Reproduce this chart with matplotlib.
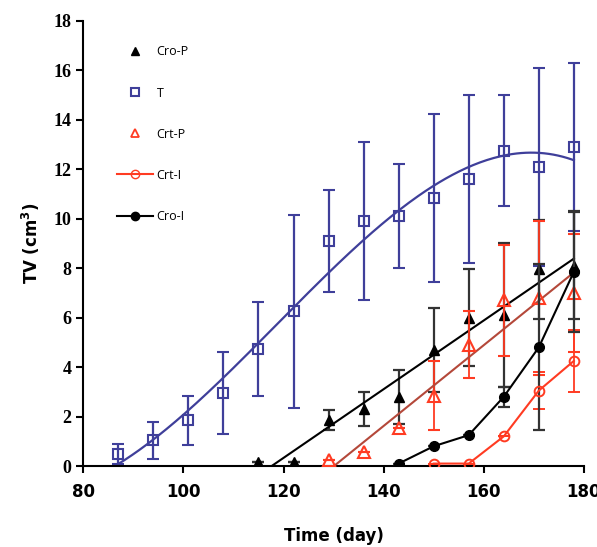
import numpy as np
import matplotlib
matplotlib.use("Agg")
import matplotlib.pyplot as plt
from matplotlib.lines import Line2D

# days of measurement
days_t = [87, 94, 101, 108, 115, 122, 129, 136, 143, 150, 157, 164, 171, 178]
t_val = [0.5, 1.05, 1.85, 2.95, 4.75, 6.25, 9.1, 9.9, 10.1, 10.85, 11.6, 12.75, 12.1, 12.9]
t_err = [0.4, 0.75, 1.0, 1.65, 1.9, 3.9, 2.05, 3.2, 2.1, 3.4, 3.4, 2.25, 4.0, 3.4]

days_crop = [115, 122, 129, 136, 143, 150, 157, 164, 171, 178]
crop_val = [0.15, 0.15, 1.85, 2.3, 2.8, 4.7, 6.0, 6.1, 7.95, 8.1]
crop_err = [0.0, 0.0, 0.4, 0.7, 1.1, 1.7, 1.95, 2.9, 2.0, 2.15]

days_crtp = [129, 136, 143, 150, 157, 164, 171, 178]
crtp_val = [0.25, 0.55, 1.55, 2.85, 4.9, 6.7, 6.8, 7.0]
crtp_err = [0.0, 0.0, 0.0, 1.4, 1.35, 2.25, 3.1, 2.4]

days_crti = [150, 157, 164, 171, 178]
crti_val = [0.1, 0.1, 1.2, 3.05, 4.25]
crti_err = [0.0, 0.0, 0.0, 0.75, 1.25]

days_croi = [143, 150, 157, 164, 171, 178]
croi_val = [0.1, 0.8, 1.25, 2.8, 4.8, 7.85]
croi_err = [0.0, 0.0, 0.0, 0.4, 3.35, 2.45]

blue = "#3f3f9a"
red = "#ff3b22"
brown = "#b4483a"

fig = plt.figure(figsize=(5.97, 5.47), dpi=100)
ax = fig.add_axes([0.1395, 0.148, 0.8385, 0.814])

# T with cubic trendline
ax.errorbar(days_t, t_val, yerr=t_err, fmt="s", color=blue, mfc="none", mec=blue,
            ms=7, mew=1.5, elinewidth=1.6, capsize=4, capthick=1.6, zorder=2)
c = np.polyfit(days_t, t_val, 3)
xx = np.linspace(days_t[0], days_t[-1], 200)
ax.plot(xx, np.polyval(c, xx), color=blue, lw=1.6, zorder=2)

# Cro-P with linear trendline
ax.errorbar(days_crop, crop_val, yerr=crop_err, fmt="^", color="black", ms=7.5,
            elinewidth=1.6, ecolor="#333333", capsize=4, capthick=1.6, zorder=3)
c = np.polyfit(days_crop, crop_val, 1)
xx = np.array([days_crop[0], days_crop[-1]])
ax.plot(xx, np.polyval(c, xx), color="black", lw=1.5, zorder=3)

# Crt-P with linear trendline
ax.errorbar(days_crtp, crtp_val, yerr=crtp_err, fmt="^", color=red, mfc="none", mec=red,
            ms=8, mew=1.5, elinewidth=1.3, capsize=4, capthick=1.3, zorder=4)
c = np.polyfit(days_crtp, crtp_val, 1)
xx = np.array([days_crtp[0], days_crtp[-1]])
ax.plot(xx, np.polyval(c, xx), color=brown, lw=1.5, zorder=4)

# Crt-I
ax.errorbar(days_crti, crti_val, yerr=crti_err, fmt="-o", color=red, mfc="none", mec=red,
            ms=7, mew=1.4, lw=1.5, elinewidth=1.3, capsize=4, capthick=1.3, zorder=5)

# Cro-I
ax.errorbar(days_croi, croi_val, yerr=croi_err, fmt="-o", color="black", ms=7,
            lw=1.5, elinewidth=1.6, ecolor="#333333", capsize=4, capthick=1.6, zorder=5)

ax.set_xlim(80, 180)
ax.set_ylim(0, 18)
ax.set_xticks(range(80, 181, 20))
ax.set_yticks(range(0, 19, 2))
for s in ["top", "right"]:
    ax.spines[s].set_visible(False)
for s in ["left", "bottom"]:
    ax.spines[s].set_linewidth(1.5)
ax.tick_params(direction="out", length=5, width=1.5)
ax.tick_params(axis="x", pad=7)
for lab in ax.get_xticklabels():
    lab.set_fontfamily("DejaVu Sans")
    lab.set_fontweight("bold")
    lab.set_fontsize(12)
for lab in ax.get_yticklabels():
    lab.set_fontfamily("Liberation Serif")
    lab.set_fontweight("bold")
    lab.set_fontsize(13)

ax.set_xlabel("Time (day)", fontsize=12, fontweight="bold", labelpad=19)
ax.set_ylabel("TV (cm$^\\mathbf{3}$)", fontsize=12, fontweight="bold", labelpad=8)

handles = [
    Line2D([], [], ls="none", marker="^", color="black", ms=6),
    Line2D([], [], ls="none", marker="s", color=blue, mfc="none", ms=6, mew=1.5),
    Line2D([], [], ls="none", marker="^", color=red, mfc="none", ms=6, mew=1.3),
    Line2D([], [], ls="-", marker="o", color=red, mfc="none", ms=6, lw=1.5),
    Line2D([], [], ls="-", marker="o", color="black", ms=6, lw=1.5),
]
labels = ["Cro-P", "T", "Crt-P", "Crt-I", "Cro-I"]
ax.legend(handles, labels, loc="upper left", bbox_to_anchor=(0.044, 0.97), frameon=False,
          labelspacing=2.25, handlelength=2.9, handletextpad=0.3,
          prop={"family": "Open Sans", "size": 9})

fig.savefig("out.png", dpi=100)
